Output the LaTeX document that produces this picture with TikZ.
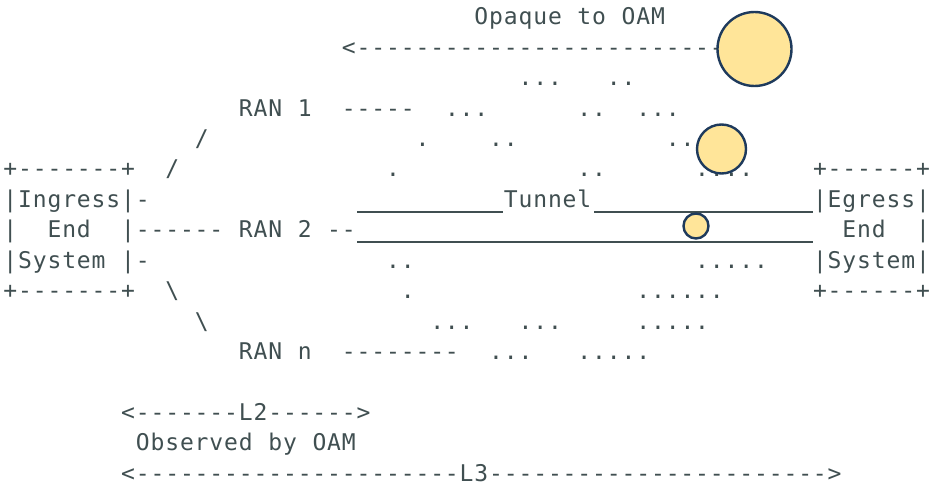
\documentclass[tikz,border=0pt]{standalone}
\usepackage{fontspec}
\newfontfamily\asciifont{DejaVu Sans Mono}[LetterSpace=3.8,Ligatures=TeXOff]
\definecolor{ink}{HTML}{404F51}
\definecolor{bubblefill}{HTML}{FFE599}
\definecolor{bubbleline}{HTML}{1E3A5C}
% one text run: name, row, column, text
\newcommand\asc[4]{\node[txt] (#1) at ({14.72*#3+3.4},{24.7+30.44*#2}) {#4};}
\begin{document}
\begin{tikzpicture}[x=1pt,y=-1pt,
  txt/.style={anchor=base west,inner sep=0pt,outer sep=0pt,text=ink,
    font={\fontsize{23}{27}\asciifont}},
  tunnelline/.style={draw=ink,line width=2pt},
  bubble/.style={circle,draw=bubbleline,line width=2.4pt,fill=bubblefill,inner sep=0pt}]
\path[fill=white] (0,0) rectangle (932,487);

% top path, hidden from OAM
\asc{opq}{0}{32}{Opaque}
\asc{opto}{0}{39}{to}
\asc{opoam}{0}{42}{OAM}
\asc{oparr}{1}{23}{<}
\asc{opdash}{1}{24}{--------------------------}

\asc{r2a}{2}{35}{...}
\asc{r2b}{2}{41}{..}

% RAN 1
\asc{ranA}{3}{16}{RAN}
\asc{ranAn}{3}{20}{1}
\asc{ranAd}{3}{23}{-----}
\asc{r3a}{3}{30}{...}
\asc{r3b}{3}{39}{..}
\asc{r3c}{3}{43}{...}

\asc{slA}{4}{13}{/}
\asc{r4a}{4}{28}{.}
\asc{r4b}{4}{33}{..}
\asc{r4c}{4}{45}{..}

% ingress / egress boxes, top edges
\asc{inTop}{5}{0}{+-------+}
\asc{slB}{5}{11}{/}
\asc{r5a}{5}{26}{.}
\asc{r5b}{5}{39}{..}
\asc{r5c}{5}{47}{....}
\asc{egTop}{5}{55}{+------+}

\asc{inL1}{6}{0}{|Ingress|-}
\asc{tun}{6}{34}{Tunnel}
\asc{egL1}{6}{55}{|Egress|}

\asc{inL2a}{7}{0}{|}
\asc{inL2b}{7}{3}{End}
\asc{inL2c}{7}{8}{|------}
\asc{ranB}{7}{16}{RAN}
\asc{ranBn}{7}{20}{2}
\asc{ranBd}{7}{22}{--}
\asc{egL2a}{7}{57}{End}
\asc{egL2b}{7}{62}{|}

\asc{inL3a}{8}{0}{|System}
\asc{inL3b}{8}{8}{|-}
\asc{r8a}{8}{26}{..}
\asc{r8b}{8}{47}{.....}
\asc{egL3}{8}{55}{|System|}

\asc{inBot}{9}{0}{+-------+}
\asc{bsA}{9}{11}{\textbackslash}
\asc{r9a}{9}{27}{.}
\asc{r9b}{9}{43}{......}
\asc{egBot}{9}{55}{+------+}

\asc{bsB}{10}{13}{\textbackslash}
\asc{r10a}{10}{29}{...}
\asc{r10b}{10}{35}{...}
\asc{r10c}{10}{43}{.....}

% RAN n
\asc{ranC}{11}{16}{RAN}
\asc{ranCn}{11}{20}{n}
\asc{ranCd}{11}{23}{--------}
\asc{r11a}{11}{33}{...}
\asc{r11b}{11}{39}{.....}

% spans
\asc{spanL2}{13}{8}{<-------L2------>}
\asc{obs}{14}{9}{Observed}
\asc{obsby}{14}{18}{by}
\asc{obsoam}{14}{21}{OAM}
\asc{spanL3}{15}{8}{<----------------------L3----------------------->}

% tunnel walls
\coordinate (tuA) at (357,212.3);
\coordinate (tuB) at (503,212.3);
\coordinate (tuC) at (594,212.3);
\coordinate (tuD) at (813,212.3);
\coordinate (tlA) at (357,242.3);
\coordinate (tlB) at (813,242.3);
\draw[tunnelline] (tuA) -- (tuB);
\draw[tunnelline] (tuC) -- (tuD);
\draw[tunnelline] (tlA) -- (tlB);

% OAM packets
\node[bubble,minimum size=74pt] (pk1) at (754.5,49) {};
\node[bubble,minimum size=49pt] (pk2) at (721.5,149) {};
\node[bubble,minimum size=25pt] (pk3) at (696,226) {};
\end{tikzpicture}
\end{document}
